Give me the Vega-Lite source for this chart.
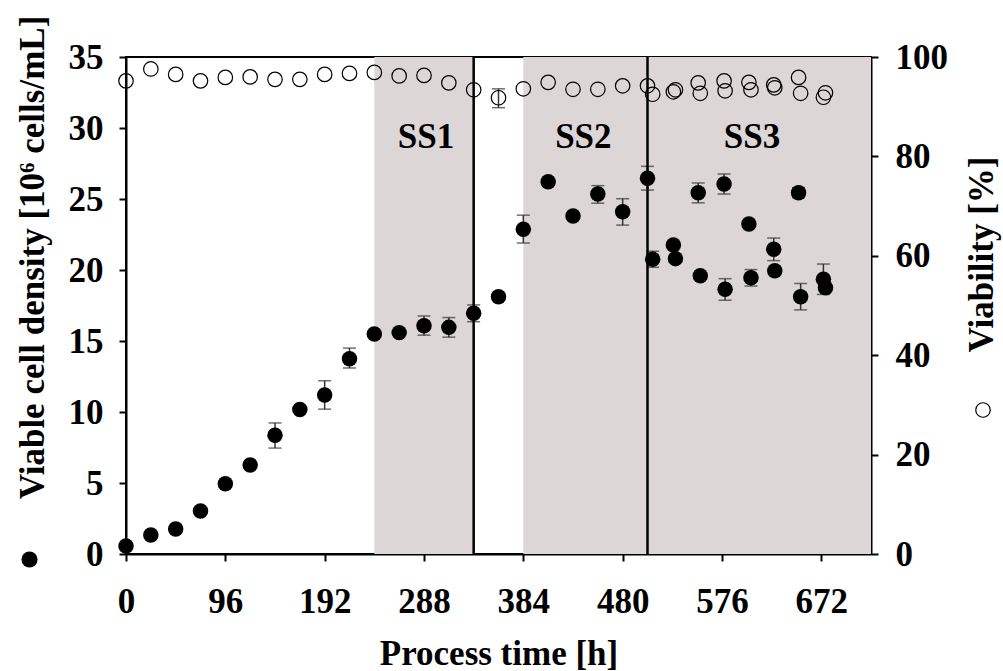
{
  "$schema": "https://vega.github.io/schema/vega-lite/v6.json",
  "width": 745,
  "height": 497,
  "autosize": {"type": "none"},
  "padding": {"left": 126, "top": 57, "right": 132, "bottom": 117},
  "background": "white",
  "config": {
    "view": {"stroke": "black", "strokeWidth": 2},
    "axis": {
      "grid": false,
      "domainColor": "black",
      "domainWidth": 2,
      "tickColor": "black",
      "tickWidth": 2,
      "tickSize": 7,
      "labelFont": "Liberation Serif",
      "labelFontWeight": "bold",
      "labelFontSize": 35,
      "labelColor": "black",
      "titleFont": "Liberation Serif",
      "titleFontWeight": "bold",
      "titleFontSize": 35,
      "titleColor": "black"
    },
    "axisX": {"labelPadding": 23, "titlePadding": 17, "labelAngle": 0, "labelFlush": false},
    "axisLeft": {"labelPadding": 16, "titleAngle": 270, "titleBaseline": "alphabetic", "titleX": -83, "titleY": 200},
    "axisRight": {"labelPadding": 17, "titleAngle": 270, "titleBaseline": "alphabetic", "titleX": 121, "titleY": 197},
    "legend": {"orient": "none", "padding": 0, "offset": 0, "title": null}
  },
  "datasets": {
    "main": [
      {"t": 0, "vcd": 0.56, "via": 95.2},
      {"t": 24, "vcd": 1.34, "via": 97.6},
      {"t": 48, "vcd": 1.76, "via": 96.5},
      {"t": 72, "vcd": 3.03, "via": 95.2},
      {"t": 96, "vcd": 4.95, "via": 95.9},
      {"t": 120, "vcd": 6.27, "via": 96.0},
      {"t": 144, "vcd": 8.36, "vlo": 7.46, "vhi": 9.23, "via": 95.5},
      {"t": 168, "vcd": 10.17, "via": 95.5},
      {"t": 192, "vcd": 11.2, "vlo": 10.2, "vhi": 12.2, "via": 96.5},
      {"t": 216, "vcd": 13.75, "vlo": 13.1, "vhi": 14.5, "via": 96.7},
      {"t": 240, "vcd": 15.49, "via": 96.9},
      {"t": 264, "vcd": 15.59, "via": 96.2},
      {"t": 288, "vcd": 16.08, "vlo": 15.41, "vhi": 16.76, "via": 96.3},
      {"t": 312, "vcd": 15.96, "vlo": 15.27, "vhi": 16.65, "via": 94.8},
      {"t": 336, "vcd": 16.95, "vlo": 16.36, "vhi": 17.54, "via": 93.4},
      {"t": 360, "vcd": 18.12, "via": 91.8, "alo": 89.8, "ahi": 93.6},
      {"t": 384, "vcd": 22.87, "vlo": 21.9, "vhi": 23.86, "via": 93.6},
      {"t": 408, "vcd": 26.22, "via": 94.9},
      {"t": 432, "vcd": 23.8, "via": 93.5},
      {"t": 456, "vcd": 25.35, "vlo": 24.7, "vhi": 25.94, "via": 93.5},
      {"t": 480, "vcd": 24.1, "vlo": 23.16, "vhi": 25.02, "via": 94.2},
      {"t": 504, "vcd": 26.46, "vlo": 25.63, "vhi": 27.3, "via": 94.2},
      {"t": 509, "vcd": 20.75, "vlo": 20.19, "vhi": 21.32, "via": 92.5},
      {"t": 529, "vcd": 21.76, "via": 93.0},
      {"t": 531, "vcd": 20.8, "via": 93.4},
      {"t": 553, "vcd": 25.44, "vlo": 24.73, "vhi": 26.13, "via": 94.8},
      {"t": 555, "vcd": 19.6, "via": 92.7},
      {"t": 578, "vcd": 26.06, "vlo": 25.35, "vhi": 26.76, "via": 95.2},
      {"t": 579, "vcd": 18.64, "vlo": 17.87, "vhi": 19.39, "via": 93.2},
      {"t": 602, "vcd": 23.24, "via": 94.9},
      {"t": 604, "vcd": 19.46, "vlo": 18.87, "vhi": 20.03, "via": 93.4},
      {"t": 626, "vcd": 21.46, "vlo": 20.66, "vhi": 22.25, "via": 94.4},
      {"t": 627, "vcd": 19.95, "via": 93.8},
      {"t": 650, "vcd": 25.44, "vlo": 25.1, "vhi": 25.8, "via": 95.9},
      {"t": 652, "vcd": 18.12, "vlo": 17.19, "vhi": 19.05, "via": 92.7},
      {"t": 674, "vcd": 19.35, "vlo": 18.28, "vhi": 20.42, "via": 91.9},
      {"t": 676, "vcd": 18.75, "via": 92.8}
    ],
    "bands": [
      {"start": 240, "end": 336},
      {"start": 384, "end": 720}
    ],
    "lines": [{"t": 336}, {"t": 504}],
    "labels": [
      {"t": 290, "vcd": 28.6, "label": "SS1"},
      {"t": 442, "vcd": 28.6, "label": "SS2"},
      {"t": 605, "vcd": 28.6, "label": "SS3"}
    ]
  },
  "layer": [
    {
      "layer": [
        {
          "data": {"name": "bands"},
          "mark": {"type": "rect", "color": "#dcd6d6"},
          "encoding": {
            "x": {"field": "start", "type": "quantitative", "scale": {"domain": [0, 720]}, "title": "Process time [h]", "axis": {"values": [0, 96, 192, 288, 384, 480, 576, 672]}},
            "x2": {"field": "end"}
          }
        },
        {
          "data": {"name": "main"},
          "transform": [{"filter": "datum.vlo != null"}],
          "mark": {"type": "rule", "color": "#333333", "strokeWidth": 1.5},
          "encoding": {
            "x": {"field": "t", "type": "quantitative", "scale": {"domain": [0, 720]}, "title": "Process time [h]", "axis": {"values": [0, 96, 192, 288, 384, 480, 576, 672]}},
            "y": {"field": "vlo", "type": "quantitative", "scale": {"domain": [0, 35]}, "title": "Viable cell density [10⁶ cells/mL]", "axis": {"values": [0, 5, 10, 15, 20, 25, 30, 35], "orient": "left"}},
            "y2": {"field": "vhi"}
          }
        },
        {
          "data": {"name": "main"},
          "transform": [{"filter": "datum.vlo != null"}],
          "mark": {"type": "tick", "orient": "horizontal", "color": "#333333", "size": 13, "thickness": 1.5},
          "encoding": {
            "x": {"field": "t", "type": "quantitative", "scale": {"domain": [0, 720]}, "title": "Process time [h]", "axis": {"values": [0, 96, 192, 288, 384, 480, 576, 672]}},
            "y": {"field": "vlo", "type": "quantitative", "scale": {"domain": [0, 35]}, "title": "Viable cell density [10⁶ cells/mL]", "axis": {"values": [0, 5, 10, 15, 20, 25, 30, 35], "orient": "left"}}
          }
        },
        {
          "data": {"name": "main"},
          "transform": [{"filter": "datum.vlo != null"}],
          "mark": {"type": "tick", "orient": "horizontal", "color": "#333333", "size": 13, "thickness": 1.5},
          "encoding": {
            "x": {"field": "t", "type": "quantitative", "scale": {"domain": [0, 720]}, "title": "Process time [h]", "axis": {"values": [0, 96, 192, 288, 384, 480, 576, 672]}},
            "y": {"field": "vhi", "type": "quantitative", "scale": {"domain": [0, 35]}, "title": "Viable cell density [10⁶ cells/mL]", "axis": {"values": [0, 5, 10, 15, 20, 25, 30, 35], "orient": "left"}}
          }
        },
        {
          "data": {"name": "lines"},
          "mark": {"type": "rule", "color": "black", "strokeWidth": 2.5},
          "encoding": {
            "x": {"field": "t", "type": "quantitative", "scale": {"domain": [0, 720]}, "title": "Process time [h]", "axis": {"values": [0, 96, 192, 288, 384, 480, 576, 672]}}
          }
        },
        {
          "data": {"name": "main"},
          "mark": {"type": "circle", "size": 240, "opacity": 1},
          "encoding": {
            "x": {"field": "t", "type": "quantitative", "scale": {"domain": [0, 720]}, "title": "Process time [h]", "axis": {"values": [0, 96, 192, 288, 384, 480, 576, 672]}},
            "y": {"field": "vcd", "type": "quantitative", "scale": {"domain": [0, 35]}, "title": "Viable cell density [10⁶ cells/mL]", "axis": {"values": [0, 5, 10, 15, 20, 25, 30, 35], "orient": "left"}},
            "color": {"datum": "Viable cell density", "type": "nominal", "scale": {"range": ["black"]}, "legend": {"legendX": -105, "legendY": 494, "labelExpr": "''", "labelFontSize": 0, "labelOpacity": 0, "symbolType": "circle", "symbolSize": 260, "symbolFillColor": "black", "symbolStrokeWidth": 0, "symbolOpacity": 1}}
          }
        },
        {
          "data": {"name": "labels"},
          "mark": {"type": "text", "font": "Liberation Serif", "fontWeight": "bold", "fontSize": 35, "color": "black", "align": "center", "baseline": "alphabetic"},
          "encoding": {
            "x": {"field": "t", "type": "quantitative", "scale": {"domain": [0, 720]}, "title": "Process time [h]", "axis": {"values": [0, 96, 192, 288, 384, 480, 576, 672]}},
            "y": {"field": "vcd", "type": "quantitative", "scale": {"domain": [0, 35]}, "title": "Viable cell density [10⁶ cells/mL]", "axis": {"values": [0, 5, 10, 15, 20, 25, 30, 35], "orient": "left"}},
            "text": {"field": "label"}
          }
        }
      ]
    },
    {
      "layer": [
        {
          "data": {"name": "main"},
          "transform": [{"filter": "datum.alo != null"}],
          "mark": {"type": "rule", "color": "#333333", "strokeWidth": 1.5},
          "encoding": {
            "x": {"field": "t", "type": "quantitative", "scale": {"domain": [0, 720]}, "title": "Process time [h]", "axis": {"values": [0, 96, 192, 288, 384, 480, 576, 672]}},
            "y": {"field": "alo", "type": "quantitative", "scale": {"domain": [0, 100]}, "title": "Viability [%]", "axis": {"values": [0, 20, 40, 60, 80, 100], "orient": "right"}},
            "y2": {"field": "ahi"}
          }
        },
        {
          "data": {"name": "main"},
          "transform": [{"filter": "datum.alo != null"}],
          "mark": {"type": "tick", "orient": "horizontal", "color": "#333333", "size": 13, "thickness": 1.5},
          "encoding": {
            "x": {"field": "t", "type": "quantitative", "scale": {"domain": [0, 720]}, "title": "Process time [h]", "axis": {"values": [0, 96, 192, 288, 384, 480, 576, 672]}},
            "y": {"field": "alo", "type": "quantitative", "scale": {"domain": [0, 100]}, "title": "Viability [%]", "axis": {"values": [0, 20, 40, 60, 80, 100], "orient": "right"}}
          }
        },
        {
          "data": {"name": "main"},
          "transform": [{"filter": "datum.alo != null"}],
          "mark": {"type": "tick", "orient": "horizontal", "color": "#333333", "size": 13, "thickness": 1.5},
          "encoding": {
            "x": {"field": "t", "type": "quantitative", "scale": {"domain": [0, 720]}, "title": "Process time [h]", "axis": {"values": [0, 96, 192, 288, 384, 480, 576, 672]}},
            "y": {"field": "ahi", "type": "quantitative", "scale": {"domain": [0, 100]}, "title": "Viability [%]", "axis": {"values": [0, 20, 40, 60, 80, 100], "orient": "right"}}
          }
        },
        {
          "data": {"name": "main"},
          "mark": {"type": "point", "size": 210, "filled": false, "stroke": "black", "strokeWidth": 1.2, "opacity": 1},
          "encoding": {
            "x": {"field": "t", "type": "quantitative", "scale": {"domain": [0, 720]}, "title": "Process time [h]", "axis": {"values": [0, 96, 192, 288, 384, 480, 576, 672]}},
            "y": {"field": "via", "type": "quantitative", "scale": {"domain": [0, 100]}, "title": "Viability [%]", "axis": {"values": [0, 20, 40, 60, 80, 100], "orient": "right"}},
            "shape": {"datum": "Viability", "type": "nominal", "scale": {"range": ["circle"]}, "legend": {"legendX": 849, "legendY": 345, "labelExpr": "''", "labelFontSize": 0, "labelOpacity": 0, "symbolSize": 210, "symbolFillColor": "transparent", "symbolStrokeColor": "black", "symbolStrokeWidth": 1.2, "symbolOpacity": 1}}
          }
        }
      ]
    }
  ],
  "resolve": {"scale": {"y": "independent"}}
}
